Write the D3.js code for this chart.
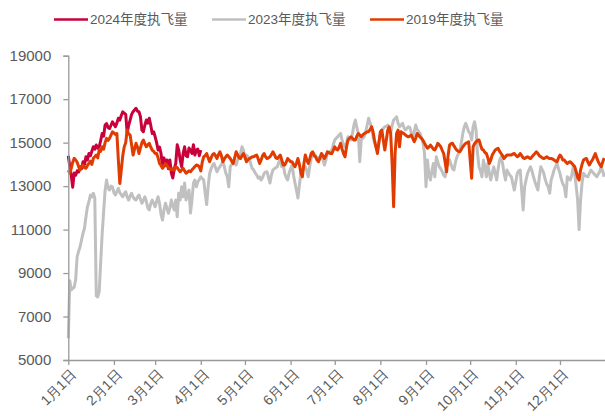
<!DOCTYPE html>
<html>
<head>
<meta charset="utf-8">
<script src="https://cdn.jsdelivr.net/npm/d3@7"></script>
<style>
  html, body { margin: 0; padding: 0; background: #fff; }
  svg { display: block; font-family: "Liberation Sans", Arial, "Noto Sans CJK SC", sans-serif; }
</style>
</head>
<body>
<svg id="chart" width="605" height="416"></svg>
<script>
// Daily flight counts, indexed by day of year (day 0 = 1月1日)
const seriesNames = ["2024年度执飞量", "2023年度执飞量", "2019年度执飞量"];
const seriesColors = ["#C8003C", "#C0C0C0", "#E03C02"];
const monthLabels = ["1月1日","2月1日","3月1日","4月1日","5月1日","6月1日","7月1日","8月1日","9月1日","10月1日","11月1日","12月1日"];
const yTicks = [5000, 7000, 9000, 11000, 13000, 15000, 17000, 19000];

const flights2024 = [
  14400,13900,13500,12950,13600,13500,13700,13650,13890,13800,
  14120,14000,14350,14200,14500,14400,14600,14810,14700,14890,
  14750,14810,15100,15420,15300,15810,15880,15700,15650,15800,
  15960,15850,15730,15900,16120,16040,16250,16420,16350,16300,
  15450,15800,16040,16300,16420,16500,16580,16450,16420,16200,
  15580,15500,15800,16040,15900,16120,15800,15420,15500,15270,
  15000,14660,14800,14500,13890,14300,13950,14200,13800,14200,
  13600,13370,13800,14050,14900,14660,14200,13890,14500,14810,
  14400,14350,14750,14660,14500,14900,14430,14660,14700,14400,
  14660
];

const flights2023 = [
  6000,8650,8220,8300,8350,8700,9750,10000,10210,10520,
  10830,11060,11590,12050,12280,12590,12500,12670,12450,7950,
  7900,8150,9500,10800,11800,12800,13280,12900,12820,13000,
  12970,12700,12590,12750,12900,12700,12600,12510,12650,12740,
  12500,12360,12550,12670,12500,12400,12360,12500,12590,12400,
  12210,12350,12510,12300,12000,11900,12200,12360,12200,12050,
  12300,12510,12200,11700,11440,11900,12210,12000,11750,12000,
  12360,12100,11900,12360,11590,12670,12360,12970,12510,13140,
  12360,12600,12820,11760,12360,13140,13280,12970,13200,13300,
  13430,13350,13280,12670,12150,12970,13580,13800,13950,14040,
  13850,13660,13800,13890,14000,14120,13900,13600,13430,12970,
  13890,14000,14040,14100,13970,14200,14350,14500,14810,14660,
  14270,14430,14350,14270,14000,13800,13740,13600,13510,13370,
  13430,13280,13400,13580,13650,13660,13400,13140,13510,13740,
  13800,13850,13890,14100,14270,13890,14040,13580,13400,13280,
  13600,13800,13970,13500,13140,12800,12450,13050,13590,13700,
  13800,13890,13700,13430,13900,14280,14400,14500,14400,14300,
  14280,14350,14430,14200,13970,14200,14500,14550,14600,14660,
  14900,15120,15200,15270,15350,15430,15100,14900,14810,15000,
  15270,15200,15120,15400,15800,16040,15700,15420,14120,15120,
  15200,15270,15500,15800,16120,15900,15730,15300,14980,14800,
  14660,15000,15400,15580,15650,15730,15750,15810,15580,15420,
  15800,16040,16100,16190,15900,15730,15800,15890,15700,15580,
  15650,15730,15700,15450,15270,15500,15810,15600,15500,15420,
  15200,14970,14500,12970,14200,13500,13280,13700,14040,13430,
  14350,14100,13890,13800,13660,13500,13430,13890,14000,14200,
  14000,13800,13740,14100,14350,14500,14660,15000,15420,15730,
  15890,15700,15500,15420,15120,15730,15960,15580,14500,13890,
  13700,13430,14200,13890,13430,14040,13600,13280,13600,13890,
  13600,13280,13800,14200,14350,14050,13600,13280,13740,13600,
  13500,13430,13100,12820,13200,13590,13700,13740,12800,11900,
  12970,13300,13590,13750,13890,13700,13430,13200,13000,12820,
  13430,13890,13750,13590,13300,13100,12970,12670,13280,13500,
  13740,13900,14040,13800,13590,13300,13100,12970,12510,13430,
  13350,13280,13500,13890,13590,13000,12360,11000,12360,13140,
  13590,13500,13450,13430,13600,13740,13650,13590,13500,13430,
  13550,13660,13890,13700,13430
];

const flights2019 = [
  13740,13600,13820,14100,14280,14200,14100,13900,13740,13900,
  13970,13850,13820,13950,14050,14150,14000,14280,14350,14430,
  14300,14660,14600,14810,14700,15000,15200,15100,15200,15350,
  15500,15450,15380,15420,14200,13120,13740,14400,14810,15000,
  15580,15400,15350,14900,14430,14700,14970,14800,14500,14750,
  15000,15120,14950,14810,14900,14970,14800,14660,14600,14500,
  14500,14300,14040,13950,13820,13900,14040,13950,13850,13810,
  13750,13800,13740,13890,13850,13750,13660,13750,13820,13700,
  13590,13650,13700,13660,13750,13820,13900,13970,13950,13890,
  13700,14100,14350,14400,14500,14300,14120,14300,14450,14500,
  14400,14270,14450,14580,14400,14120,14250,14350,14430,14350,
  14270,14150,14040,14300,14580,14450,14300,14270,14400,14500,
  14350,14120,14200,14270,14300,14350,14350,14400,14430,14250,
  14040,14200,14400,14500,14350,14270,14300,14350,14450,14580,
  14450,14300,14270,14350,14430,14200,13970,13970,14100,14270,
  14200,14120,14120,14000,13890,14050,14270,14000,13600,13430,
  14000,14430,14200,14040,14250,14500,14580,14400,14350,14200,
  14120,14300,14500,14400,14270,14400,14580,14550,14500,14500,
  14650,14810,14700,14660,14800,14970,14700,14500,14350,14800,
  15120,15200,15270,15200,15120,15120,15300,15420,15350,15270,
  15350,15420,15450,15500,15500,15600,15730,15500,15120,14800,
  14500,15000,15500,15580,15100,14660,15100,15580,15730,15420,
  14000,12050,14500,15420,15580,14810,15500,15450,15420,15350,
  15300,15270,15300,15350,15200,15040,15200,15420,15350,15250,
  15200,15100,14970,14850,14740,14800,14890,14800,14700,14660,
  14800,14970,14900,14810,14650,14500,14100,13660,14400,14890,
  14950,14970,14850,14740,14650,14600,14580,14700,14810,14900,
  14970,15000,15040,14200,13360,14810,14950,15040,15100,15120,
  14900,14700,14660,14550,14500,14300,14040,14200,14430,14550,
  14660,14700,14740,14600,14500,14400,14270,14350,14430,14430,
  14430,14430,14480,14500,14420,14350,14400,14500,14400,14300,
  14270,14320,14350,14300,14270,14350,14430,14500,14580,14500,
  14400,14350,14300,14270,14300,14350,14300,14270,14270,14250,
  14200,14150,14120,14300,14430,14350,14200,14200,14100,14040,
  14100,14120,14050,13970,13900,13660,13400,13280,13740,14000,
  14200,14250,14270,14100,13970,14100,14200,14350,14500,14300,
  14120,14000,13890,14100,14300
];

const seriesData = [flights2024, flights2023, flights2019];

const svg = d3.select("#chart");
const margin = { left: 68.3, right: 605.6, top: 55.7, bottom: 360 };

const dayOf = (m) => d3.utcDay.count(new Date(Date.UTC(2023, 0, 1)), new Date(Date.UTC(2023, m, 1)));
const x = d3.scaleLinear().domain([0, 365]).range([margin.left, margin.right]);
const y = d3.scaleLinear().domain([5000, 19000]).range([margin.bottom, margin.top]);

const textColor = "#595959";
const axisColor = "#999999";

// Lines: 2024 first, then 2023, then 2019 on top
const line = d3.line().x((d, i) => x(i)).y(d => y(d));
seriesData.forEach((vals, k) => {
  svg.append("path")
    .datum(vals)
    .attr("fill", "none")
    .attr("stroke", seriesColors[k])
    .attr("stroke-width", 3)
    .attr("stroke-linejoin", "round")
    .attr("d", line);
});

// Y axis
const yAxis = svg.append("g")
  .attr("transform", `translate(${margin.left},0)`)
  .call(d3.axisLeft(y).tickValues(yTicks).tickSize(5).tickPadding(12).tickFormat(d3.format("d")));
yAxis.select(".domain").attr("stroke", axisColor).attr("stroke-width", 1.3);
yAxis.selectAll(".tick line").attr("stroke", axisColor).attr("stroke-width", 1.3);
yAxis.selectAll(".tick text")
  .attr("fill", textColor)
  .style("font-size", "15px");

// X axis with month starts
const monthDays = monthLabels.map((_, m) => dayOf(m));
const xAxis = svg.append("g")
  .attr("transform", `translate(0,${margin.bottom})`)
  .call(d3.axisBottom(x).tickValues(monthDays).tickSize(5).tickSizeOuter(0)
    .tickFormat((d, i) => monthLabels[i]));
xAxis.select(".domain").attr("stroke", axisColor).attr("stroke-width", 1.3);
xAxis.selectAll(".tick line").attr("stroke", axisColor).attr("stroke-width", 1.3);
xAxis.selectAll(".tick text")
  .attr("fill", textColor)
  .style("font-size", "14px")
  .attr("text-anchor", "end")
  .attr("x", 0)
  .attr("y", 0)
  .attr("dy", "0.35em")
  .attr("transform", "translate(5,12) rotate(-45)");

// Legend
const legendX = [54, 212, 370];
const legend = svg.append("g");
seriesNames.forEach((name, k) => {
  const g = legend.append("g").attr("transform", `translate(${legendX[k]},19.5)`);
  g.append("line").attr("x1", 0).attr("x2", 34).attr("y1", 0).attr("y2", 0)
    .attr("stroke", seriesColors[k]).attr("stroke-width", 2.6);
  g.append("text").attr("x", 36).attr("y", 0).attr("dy", "0.36em")
    .attr("fill", textColor).style("font-size", "13.5px").text(name);
});
</script>
</body>
</html>
